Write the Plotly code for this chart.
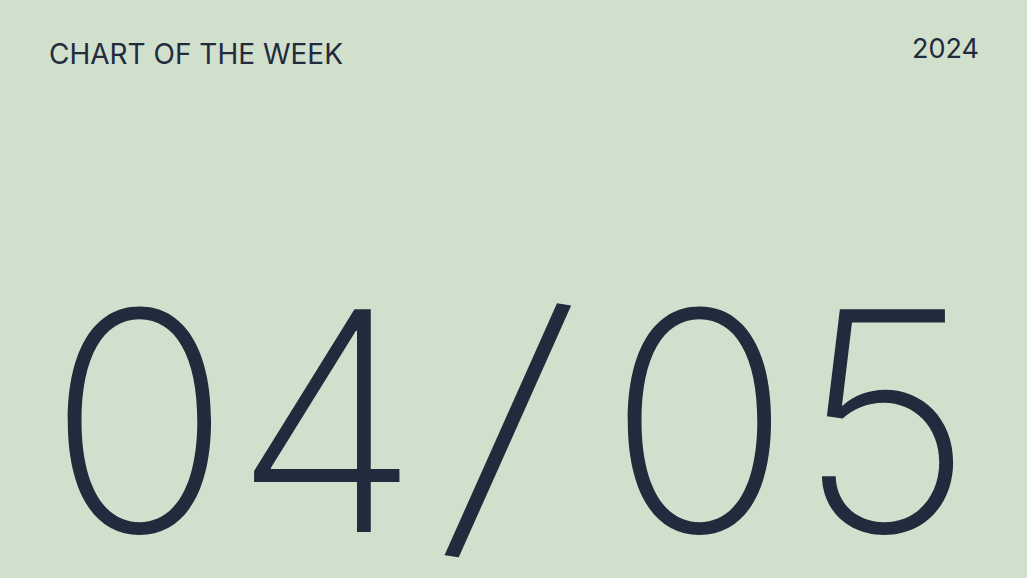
import plotly.graph_objects as go

BG = "#d1e0cc"
INK = "#222b3d"

header_left = "CHART OF THE WEEK"
header_right = "2024"
big_chars = ["0", "4", "/", "0", "5"]
# horizontal / vertical centres of the big glyphs, in pixels on the 1027x578 card
big_centres = [139, 326, 505, 699, 885]
big_middles = [421, 421, 428, 421, 421]
# the slash in the reference is longer and leans further than Inter's
big_tilt = [0, 0, 9, 0, 0]
big_sizes = [306, 306, 330, 306, 306]

W, H = 1027, 578

fig = go.Figure()

fig.add_annotation(
    text=header_left, x=47 / W, y=1 - 54 / H, xref="paper", yref="paper",
    xanchor="left", yanchor="middle", showarrow=False,
    font=dict(family="Inter", size=28, color=INK),
)
fig.add_annotation(
    text=header_right, x=981 / W, y=1 - 49 / H, xref="paper", yref="paper",
    xanchor="right", yanchor="middle", showarrow=False,
    font=dict(family="Inter", size=27, color=INK),
)

for ch, cx, cy, tilt, sz in zip(big_chars, big_centres, big_middles, big_tilt, big_sizes):
    fig.add_annotation(
        text=ch, x=cx / W, y=1 - cy / H, xref="paper", yref="paper",
        xanchor="center", yanchor="middle", showarrow=False, textangle=tilt,
        height=270, valign="middle",
        font=dict(family="Inter", size=sz, color=INK, weight=200),
    )

fig.update_layout(
    width=W, height=H,
    margin=dict(l=0, r=0, t=0, b=0),
    paper_bgcolor=BG, plot_bgcolor=BG,
    xaxis=dict(visible=False), yaxis=dict(visible=False),
    showlegend=False,
)

# drop the browser's default 8px body margin so the card fills the window
fig.write_html(
    "out.html",
    config={"displayModeBar": False},
    post_script="document.body.style.margin='0';document.body.style.overflow='hidden';",
)
